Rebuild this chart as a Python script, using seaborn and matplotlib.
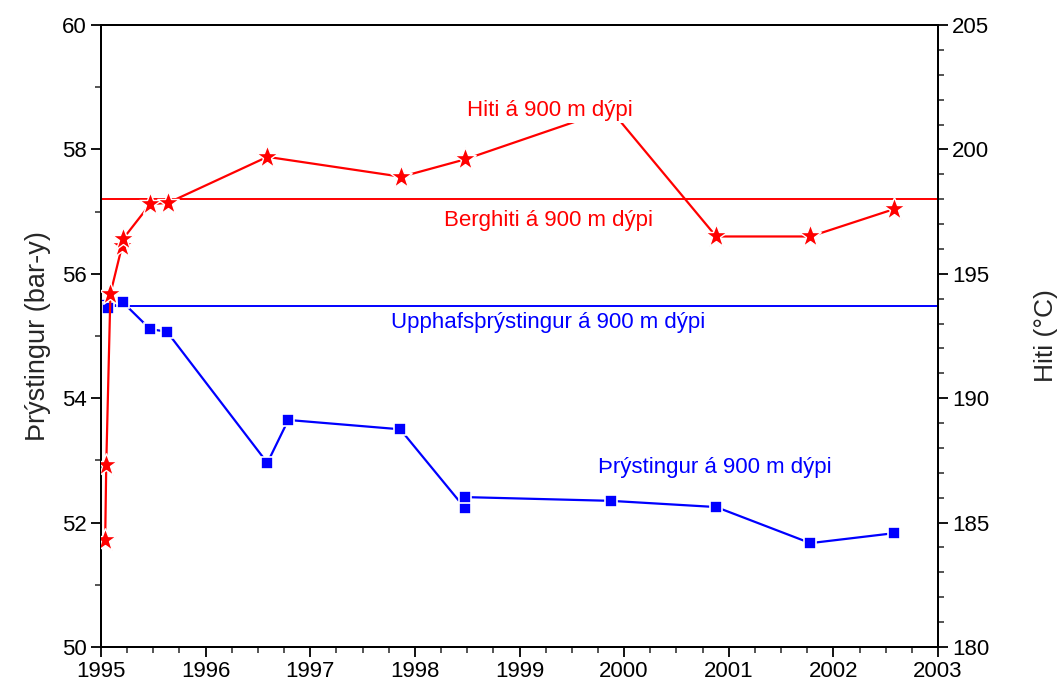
import numpy as np
import pandas as pd
import matplotlib
matplotlib.use("Agg")
import matplotlib.pyplot as plt
from matplotlib.ticker import MultipleLocator
import seaborn as sns

# ---- data ----
temp_year = [1995.04, 1995.05, 1995.09, 1995.20, 1995.21, 1995.47, 1995.64,
             1996.59, 1997.87, 1998.48, 1999.87, 2000.88, 2001.78, 2002.58]
temp_val = [184.3, 187.3, 194.2, 196.1, 196.4, 197.8, 197.85,
            199.7, 198.9, 199.6, 201.6, 196.5, 196.5, 197.6]

pres_year = [1995.03, 1995.07, 1995.21, 1995.47, 1995.63, 1996.59, 1996.79,
             1997.86, 1998.48, 1998.48, 1999.87, 2000.88, 2001.78, 2002.58]
pres_val = [55.50, 55.45, 55.54, 55.11, 55.07, 52.96, 53.65,
            53.50, 52.23, 52.41, 52.35, 52.25, 51.67, 51.83]

rock_temp = 198.0          # Berghiti á 900 m dýpi
initial_pressure = 55.48   # Upphafsþrýstingur á 900 m dýpi

year_ticks = list(range(1995, 2004))
pres_ticks = [50, 52, 54, 56, 58, 60]
temp_ticks = [180, 185, 190, 195, 200, 205]

label_hiti = "Hiti á 900 m dýpi"
label_berg = "Berghiti á 900 m dýpi"
label_upph = "Upphafsþrýstingur á 900 m dýpi"
label_pres = "Þrýstingur á 900 m dýpi"

RED = "#ff0000"
BLUE = "#0000ff"

sns.set_theme(style="ticks")
plt.rcParams["font.family"] = ["Liberation Sans", "DejaVu Sans"]

fig = plt.figure(figsize=(10.62, 6.84), dpi=100)
ax = fig.add_axes([101 / 1062, 1 - 647 / 684, (938 - 101) / 1062, (647 - 25) / 684])
ax2 = ax.twinx()

df_t = pd.DataFrame({"year": temp_year, "temp": temp_val})
df_p = pd.DataFrame({"year": pres_year, "pres": pres_val})

# pressure (left axis)
ax.axhline(initial_pressure, color=BLUE, lw=1.4, zorder=2)
sns.lineplot(data=df_p, x="year", y="pres", ax=ax, estimator=None, sort=False,
             color=BLUE, lw=1.6, marker="s", markersize=8.5,
             markerfacecolor=BLUE, markeredgecolor="white", markeredgewidth=1.2,
             zorder=3)

# temperature (right axis)
ax2.axhline(rock_temp, color=RED, lw=1.4, zorder=2)
sns.lineplot(data=df_t, x="year", y="temp", ax=ax2, estimator=None, sort=False,
             color=RED, lw=1.6, marker="*", markersize=17,
             markerfacecolor=RED, markeredgecolor="white", markeredgewidth=1.0,
             zorder=3)

# limits and ticks
ax.set_xlim(1995, 2003)
ax.set_ylim(50, 60)
ax2.set_ylim(180, 205)
ax.set_xticks(year_ticks)
ax.set_xticklabels([str(y) for y in year_ticks])
ax.set_yticks(pres_ticks)
ax2.set_yticks(temp_ticks)
ax.xaxis.set_minor_locator(MultipleLocator(0.25))
ax.yaxis.set_minor_locator(MultipleLocator(1))
ax2.yaxis.set_minor_locator(MultipleLocator(1))

for a in (ax, ax2):
    for s in a.spines.values():
        s.set_visible(True)
        s.set_linewidth(1.4)
        s.set_color("black")
    a.tick_params(which="major", direction="out", length=7, width=1.3,
                  labelsize=16, colors="black", pad=3)
    a.tick_params(which="minor", direction="out", length=4, width=1.1)
ax.tick_params(axis="y", which="both", right=False)
ax.tick_params(axis="x", which="both", top=False)
ax2.tick_params(axis="x", which="both", top=False, bottom=False)

ax.set_xlabel("")
ax.set_ylabel("Þrýstingur (bar-y)", fontsize=19.5, labelpad=8)
ax2.set_xlabel("")
ax2.set_ylabel("Hiti (°C)", fontsize=19, labelpad=32)

# annotations
ax2.text(1999.29, 201.58, label_hiti, color=RED, fontsize=16, ha="center",
         va="center", zorder=10,
         bbox=dict(facecolor="white", edgecolor="none", pad=1.5))
ax2.text(1999.28, 197.16, label_berg, color=RED, fontsize=16, ha="center",
         va="center", zorder=10)
ax2.text(1999.27, 193.05, label_upph, color=BLUE, fontsize=16, ha="center",
         va="center", zorder=10)
ax2.text(2000.87, 187.2, label_pres, color=BLUE, fontsize=16, ha="center",
         va="center", zorder=10)

ax.grid(False)
ax2.grid(False)
fig.savefig("out.png", dpi=100, facecolor="white")
